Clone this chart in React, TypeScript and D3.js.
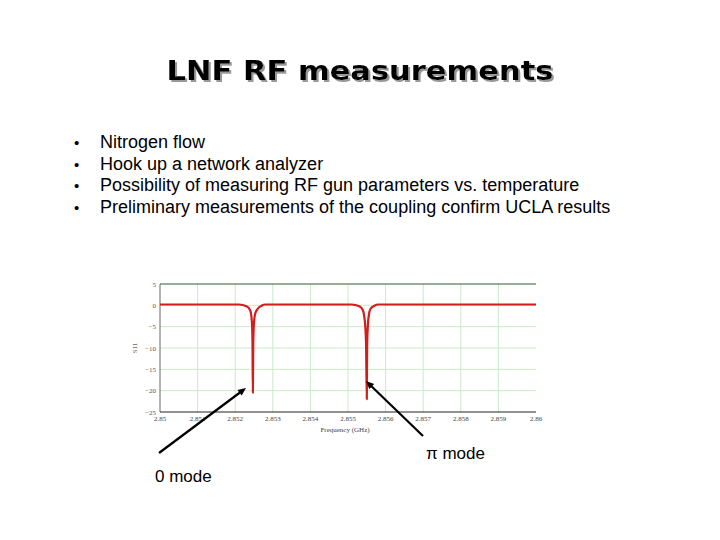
import React from "react";
import * as d3 from "d3";

const titleText = "LNF RF measurements";
const bullets = [
  "Nitrogen flow",
  "Hook up a network analyzer",
  "Possibility of measuring RF gun parameters vs. temperature",
  "Preliminary measurements of the coupling confirm UCLA results",
];

const xTicks = [2.85, 2.851, 2.852, 2.853, 2.854, 2.855, 2.856, 2.857, 2.858, 2.859, 2.86];
const xTickLabels = ["2.85", "2.851", "2.852", "2.853", "2.854", "2.855", "2.856", "2.857", "2.858", "2.859", "2.86"];
const yTicks = [5, 0, -5, -10, -15, -20, -25];

const freqGHz = [
  2.85, 2.8521, 2.8523, 2.8524, 2.85243, 2.85245, 2.85246, 2.85247, 2.85248, 2.8525, 2.85253, 2.8526, 2.8527, 2.8528,
  2.8551, 2.8553, 2.8554, 2.85543, 2.85546, 2.85548, 2.8555, 2.85551, 2.85553, 2.85556, 2.8556, 2.8557, 2.8558, 2.86,
];
const s11dB = [
  0.2, 0.2, -0.2, -1.2, -2.5, -5, -9, -20.5, -9, -4, -2, -0.8, -0.1, 0.2,
  0.2, -0.2, -1.2, -2.5, -5, -9, -22, -9, -4.5, -2, -0.8, -0.1, 0.2, 0.2,
];

const annotations = [
  { label: "0 mode", from: [159, 453], to: [246, 388], text: [155, 482] },
  { label: "\u03c0 mode", from: [423, 436], to: [366, 381], text: [426, 459] },
];

export default function App() {
  const x = d3.scaleLinear().domain([2.85, 2.86]).range([160, 536]);
  const y = d3.scaleLinear().domain([-25, 5]).range([412, 284]);
  const pts: [number, number][] = freqGHz.map((f, i) => [f, s11dB[i]]);
  const line = d3
    .line<[number, number]>()
    .x((d) => x(d[0]))
    .y((d) => y(d[1]))
    .curve(d3.curveMonotoneX);
  const tickFont = "'Liberation Serif', 'DejaVu Serif', serif";
  const arrowHead = (from: number[], to: number[]) => {
    const ang = Math.atan2(to[1] - from[1], to[0] - from[0]);
    const L = 8, W = 3.5;
    const bx = to[0] - L * Math.cos(ang), by = to[1] - L * Math.sin(ang);
    const px = -Math.sin(ang) * W, py = Math.cos(ang) * W;
    return `M${to[0]},${to[1]} L${bx + px},${by + py} L${bx - px},${by - py} Z`;
  };
  return (
    <svg
      width={720}
      height={540}
      style={{ position: "absolute", left: 0, top: 0, background: "#fff" }}
      fontFamily="'Liberation Sans', Arial, sans-serif"
    >
      <defs>
        <filter id="shadow" x="-10%" y="-30%" width="120%" height="160%">
          <feDropShadow dx={2} dy={2} stdDeviation={0.6} floodColor="#999" floodOpacity={1} />
        </filter>
      </defs>
      <rect x={0} y={0} width={720} height={540} fill="#fff" />
      <text x={360} y={80} textAnchor="middle" fontSize={27} fontWeight="bold" fill="#000" filter="url(#shadow)"
        fontFamily="'DejaVu Sans', sans-serif" textLength={387} lengthAdjust="spacingAndGlyphs">{titleText}</text>
      {bullets.map((b, i) => (
        <g key={i}>
          <text x={74} y={148 + i * 21.7} fontSize={15}>•</text>
          <text x={100} y={148 + i * 21.7} fontSize={18}>{b}</text>
        </g>
      ))}
      {xTicks.slice(1, -1).map((t) => (
        <line key={"gx" + t} x1={x(t)} x2={x(t)} y1={284} y2={412} stroke="#c9ebc9" strokeWidth={1} />
      ))}
      {yTicks.slice(1, -1).map((t) => (
        <line key={"gy" + t} x1={160} x2={536} y1={y(t)} y2={y(t)} stroke="#c9ebc9" strokeWidth={1} />
      ))}
      <line x1={160} x2={536} y1={284} y2={284} stroke="#2f5e2f" strokeWidth={1.2} />
      <line x1={160} x2={160} y1={284} y2={412} stroke="#666" strokeWidth={1} />
      <line x1={160} x2={536} y1={412} y2={412} stroke="#222" strokeWidth={1} />
      {yTicks.map((t) => (
        <text key={"yt" + t} x={156} y={y(t) + 2.5} textAnchor="end" fontSize={7} fill="#555" fontFamily={tickFont}>
          {t < 0 ? "\u2212" + Math.abs(t) : String(t)}
        </text>
      ))}
      {xTicks.map((t, i) => (
        <text key={"xt" + t} x={x(t)} y={421} textAnchor="middle" fontSize={7} fill="#444" fontFamily={tickFont}>
          {xTickLabels[i]}
        </text>
      ))}
      <text x={345} y={432} textAnchor="middle" fontSize={7} fill="#444" fontFamily={tickFont}>Frequency (GHz)</text>
      <text transform="translate(137,348) rotate(-90)" textAnchor="middle" fontSize={7} fill="#666" fontFamily={tickFont}>S11</text>
      <path d={line(pts) || ""} fill="none" stroke="#d41c1c" strokeWidth={2.2} strokeLinejoin="round" />
      {annotations.map((a, i) => (
        <g key={"an" + i}>
          <line x1={a.from[0]} y1={a.from[1]} x2={a.to[0] - (a.to[0] - a.from[0]) * 0.05} y2={a.to[1] - (a.to[1] - a.from[1]) * 0.05}
            stroke="#000" strokeWidth={2.2} />
          <path d={arrowHead(a.from, a.to)} fill="#000" />
          <text x={a.text[0]} y={a.text[1]} fontSize={17}>{a.label}</text>
        </g>
      ))}
    </svg>
  );
}
